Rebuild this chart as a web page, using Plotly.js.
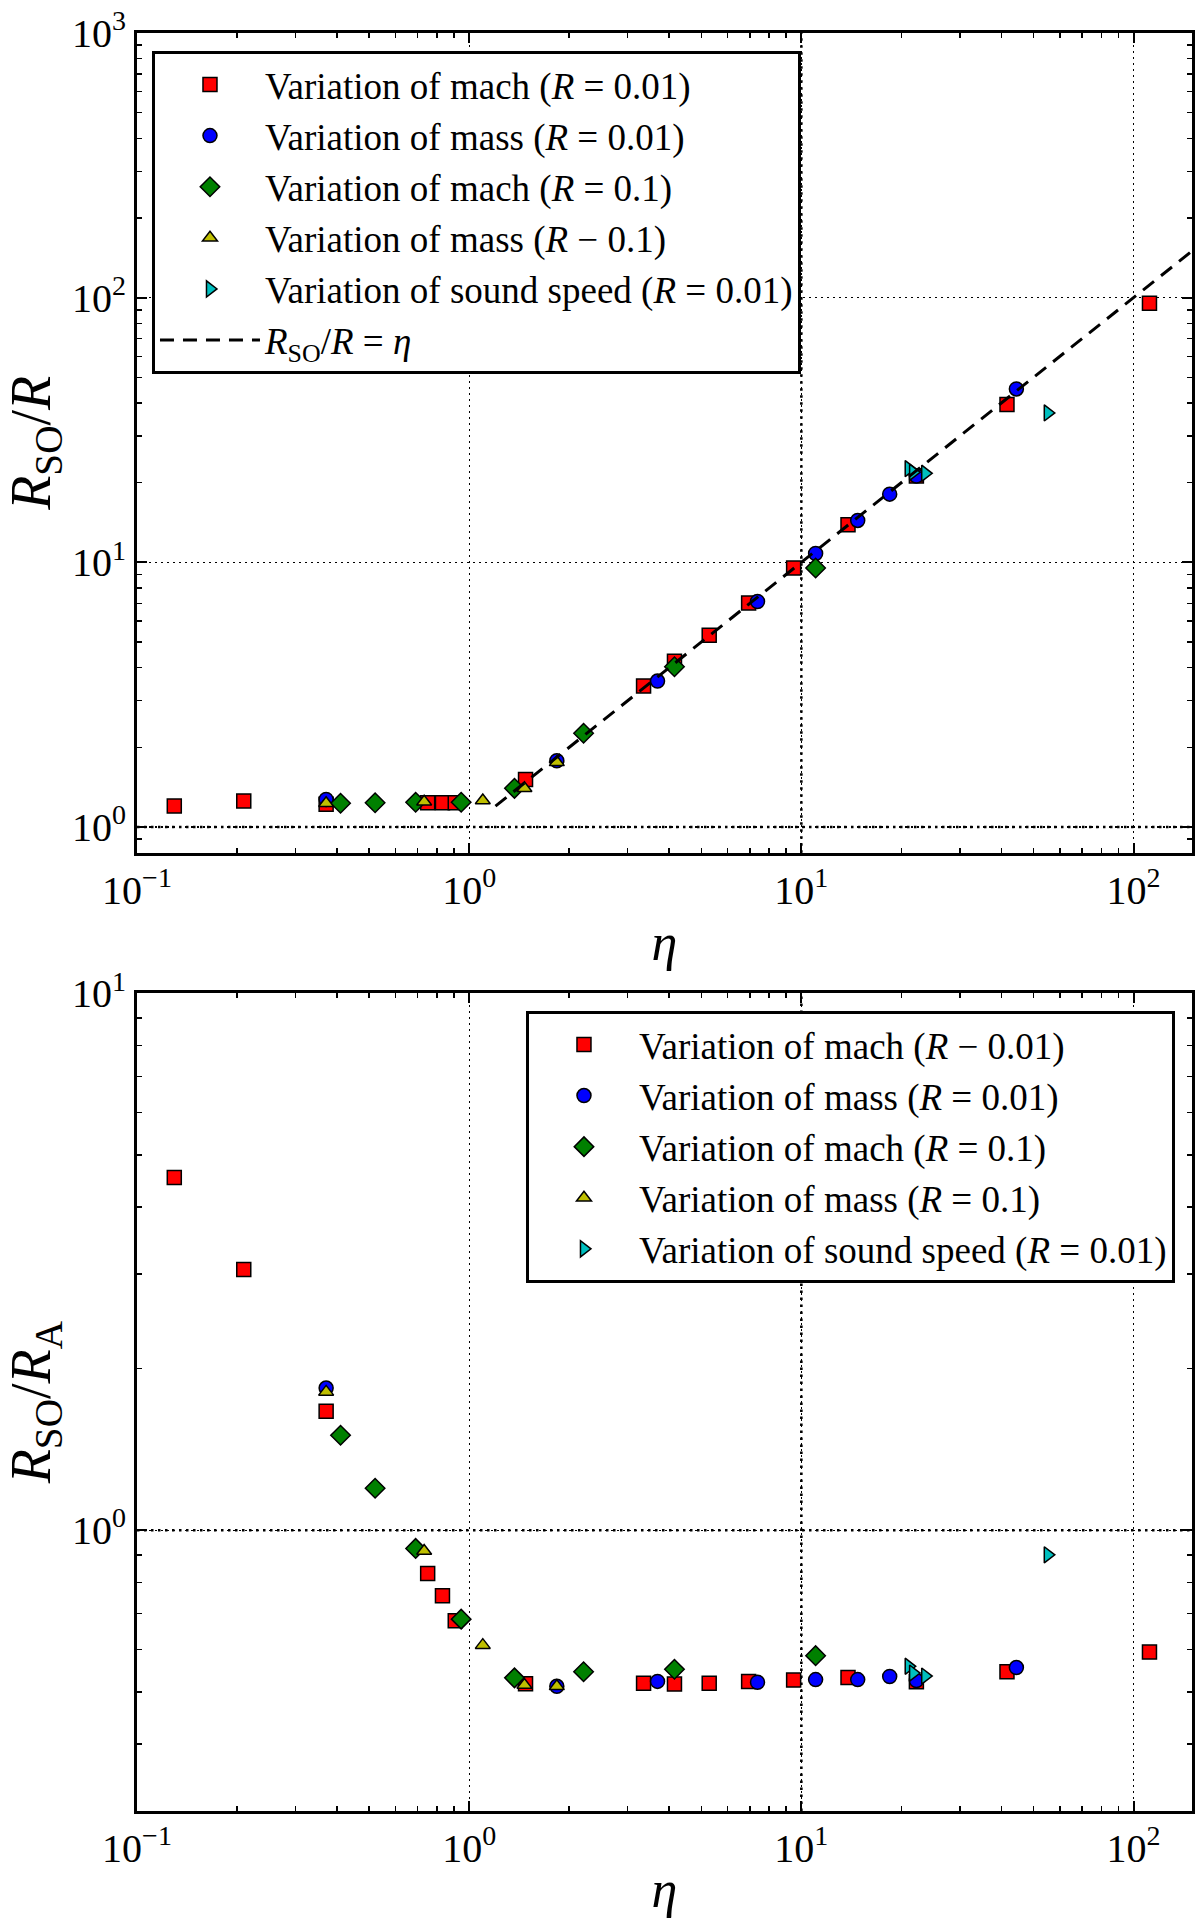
<!DOCTYPE html>
<html>
<head>
<meta charset="utf-8">
<script src="https://cdn.plot.ly/plotly-3.0.1.min.js"></script>
<style>
  html, body { margin: 0; padding: 0; background: #fff; }
  #chart { width: 1200px; height: 1918px; }
</style>
</head>
<body>
<div id="chart"></div>
<script>
// values
const etaMachR001 = [0.1295, 0.2096, 0.371, 0.75, 0.831, 0.908, 1.478, 3.35, 4.15, 5.28, 6.94, 9.48, 13.82, 22.2, 41.6, 111.7];
const rsoMachR001 = [1.20, 1.254, 1.22, 1.235, 1.235, 1.235, 1.513, 3.41, 4.23, 5.30, 7.02, 9.52, 13.87, 21.2, 39.5, 95.2];
const rsaMachR001 = [4.54, 3.06, 1.665, 0.831, 0.755, 0.678, 0.518, 0.519, 0.517, 0.519, 0.523, 0.526, 0.532, 0.522, 0.545, 0.593];

const etaMassR001 = [0.371, 1.836, 3.69, 7.38, 11.04, 14.78, 18.45, 22.2, 44.4];
const rsoMassR001 = [1.27, 1.78, 3.56, 7.11, 10.8, 14.4, 18.1, 21.2, 45.2];
const rsaMassR001 = [1.84, 0.512, 0.523, 0.521, 0.527, 0.527, 0.534, 0.525, 0.555];

const etaMachR01 = [0.41, 0.521, 0.690, 0.946, 1.369, 2.21, 4.15, 11.04];
const rsoMachR01 = [1.229, 1.235, 1.24, 1.24, 1.40, 2.26, 4.03, 9.52];
const rsaMachR01 = [1.503, 1.197, 0.925, 0.683, 0.531, 0.545, 0.551, 0.584];

const etaMassR01 = [0.371, 0.732, 1.099, 1.467, 1.836];
const rsoMassR01 = [1.229, 1.246, 1.26, 1.40, 1.755];
const rsaMassR01 = [1.81, 0.915, 0.611, 0.515, 0.512];

const etaSound = [21.05, 21.7, 23.6, 55.2];
const rsoSound = [22.6, 21.9, 21.7, 36.7];
const rsaSound = [0.558, 0.542, 0.535, 0.90];

// R_SO/R = eta reference line
const etaLine = [1.2, 150];
const rsoLine = [1.2, 150];

const xTickVals = [0.1, 1, 10, 100];
const xTickText = ["10<sup>\u22121</sup>", "10<sup>0</sup>", "10<sup>1</sup>", "10<sup>2</sup>"];
const yTopTickVals = [1, 10, 100, 1000];
const yTopTickText = ["10<sup>0</sup>", "10<sup>1</sup>", "10<sup>2</sup>", "10<sup>3</sup>"];
const yBotTickVals = [1, 10];
const yBotTickText = ["10<sup>0</sup>", "10<sup>1</sup>"];

const seriesNamesTop = [
  "Variation of mach (<i>R</i> = 0.01)",
  "Variation of mass (<i>R</i> = 0.01)",
  "Variation of mach (<i>R</i> = 0.1)",
  "Variation of mass (<i>R</i> \u2212 0.1)",
  "Variation of sound speed (<i>R</i> = 0.01)",
];
const seriesNamesBot = [
  "Variation of mach (<i>R</i> \u2212 0.01)",
  "Variation of mass (<i>R</i> = 0.01)",
  "Variation of mach (<i>R</i> = 0.1)",
  "Variation of mass (<i>R</i> = 0.1)",
  "Variation of sound speed (<i>R</i> = 0.01)",
];
const lineName = "<i>R</i><sub>SO</sub>/<i>R</i> = <i>\u03b7</i>";

const FONT = "Liberation Serif";

// minor tick positions 2..9 per decade
function minorTicks(lo, hi) {
  const out = [];
  for (let d = lo; d < hi; d++) {
    for (let k = 2; k <= 9; k++) out.push(k * Math.pow(10, d));
  }
  return out;
}

const styles = [
  { symbol: "square", color: "#ff0000", size: 14 },
  { symbol: "circle", color: "#0000ff", size: 14 },
  { symbol: "diamond", color: "#008000", size: 15 },
  { symbol: "triangle-up", color: "#bfbf00", size: 13 },
  { symbol: "triangle-right", color: "#00bfbf", size: 14 },
];

const etas = [etaMachR001, etaMassR001, etaMachR01, etaMassR01, etaSound];
const tops = [rsoMachR001, rsoMassR001, rsoMachR01, rsoMassR01, rsoSound];
const bots = [rsaMachR001, rsaMassR001, rsaMachR01, rsaMassR01, rsaSound];

const traces = [];
etas.forEach((eta, i) => {
  const s = styles[i];
  const marker = { symbol: s.symbol, color: s.color, size: s.size, line: { color: "#000", width: 1.5 } };
  traces.push({
    type: "scatter", mode: "markers", x: eta, y: tops[i],
    xaxis: "x", yaxis: "y", name: seriesNamesTop[i],
    legend: "legend", legendgroup: "t" + i, marker,
  });
});
traces.push({
  type: "scatter", mode: "lines", x: etaLine, y: rsoLine,
  xaxis: "x", yaxis: "y", name: lineName, legend: "legend", legendgroup: "tl",
  line: { color: "#000", width: 3, dash: "14px,9px" },
});
etas.forEach((eta, i) => {
  const s = styles[i];
  const marker = { symbol: s.symbol, color: s.color, size: s.size, line: { color: "#000", width: 1.5 } };
  traces.push({
    type: "scatter", mode: "markers", x: eta, y: bots[i],
    xaxis: "x2", yaxis: "y2", name: seriesNamesBot[i],
    legend: "legend2", legendgroup: "b" + i, marker,
  });
});

const axisBase = {
  type: "log",
  showline: true, linecolor: "#000", linewidth: 3, mirror: "allticks",
  ticks: "inside", ticklen: 10, tickwidth: 2, tickcolor: "#000",
  showgrid: true, gridcolor: "#000", gridwidth: 1.2, griddash: "2px,4px",
  zeroline: false,
  tickmode: "array",
  tickfont: { family: FONT, size: 40, color: "#000" },
};

function xAxis(anchor) {
  return {
    ...axisBase, anchor,
    range: [Math.log10(0.1), Math.log10(150)],
    tickvals: xTickVals, ticktext: xTickText,
    minor: { tickmode: "array", tickvals: minorTicks(-1, 3), ticks: "inside", ticklen: 5, tickwidth: 1.5, tickcolor: "#000", showgrid: false },
    title: { text: "<i>\u03b7</i>", font: { family: FONT, size: 52, color: "#000" }, standoff: 12 },
  };
}

const legendBase = {
  bgcolor: "#fff", bordercolor: "#000", borderwidth: 3,
  font: { family: FONT, size: 37, color: "#000" },
  xanchor: "left", yanchor: "top",
  itemwidth: 100, tracegroupgap: 0, traceorder: "grouped",
  itemclick: false, itemdoubleclick: false,
};

const refEta = 10;
const refRatio = 1;
const refLine = { color: "#000", width: 2.6, dash: "2.5px,4.5px" };

const layout = {
  width: 1200, height: 1918,
  paper_bgcolor: "#fff", plot_bgcolor: "#fff",
  margin: { l: 137, r: 8, t: 33, b: 107 },
  font: { family: FONT, color: "#000" },
  showlegend: true,
  xaxis: { ...xAxis("y"), domain: [0, 1] },
  yaxis: {
    ...axisBase, anchor: "x", domain: [0.539, 1],
    range: [Math.log10(0.8), 3],
    tickvals: yTopTickVals, ticktext: yTopTickText,
    minor: { tickmode: "array", tickvals: minorTicks(-1, 3).filter(v => v >= 0.8), ticks: "inside", ticklen: 5, tickwidth: 1.5, tickcolor: "#000", showgrid: false },
    title: { text: "<i>R</i><sub>SO</sub>/<i>R</i>", font: { family: FONT, size: 56, color: "#000" }, standoff: 14 },
  },
  xaxis2: { ...xAxis("y2"), domain: [0, 1] },
  yaxis2: {
    ...axisBase, anchor: "x2", domain: [0, 0.4599],
    range: [Math.log10(0.3), 1],
    tickvals: yBotTickVals, ticktext: yBotTickText,
    minor: { tickmode: "array", tickvals: minorTicks(-1, 1).filter(v => v >= 0.3), ticks: "inside", ticklen: 5, tickwidth: 1.5, tickcolor: "#000", showgrid: false },
    title: { text: "<i>R</i><sub>SO</sub>/<i>R</i><sub>A</sub>", font: { family: FONT, size: 56, color: "#000" }, standoff: 14 },
  },
  legend: { ...legendBase, x: 0.0142, y: 0.9899 },
  legend2: { ...legendBase, x: 0.3687, y: 0.45 },
  shapes: [
    { type: "line", xref: "x domain", yref: "y", x0: 0, x1: 1, y0: refRatio, y1: refRatio, line: refLine, layer: "below" },
    { type: "line", xref: "x", yref: "y domain", x0: refEta, x1: refEta, y0: 0, y1: 1, line: refLine, layer: "below" },
    { type: "line", xref: "x2 domain", yref: "y2", x0: 0, x1: 1, y0: refRatio, y1: refRatio, line: refLine, layer: "below" },
    { type: "line", xref: "x2", yref: "y2 domain", x0: refEta, x1: refEta, y0: 0, y1: 1, line: refLine, layer: "below" },
  ],
};

Plotly.newPlot("chart", traces, layout, { displayModeBar: false, staticPlot: true });
</script>
</body>
</html>
